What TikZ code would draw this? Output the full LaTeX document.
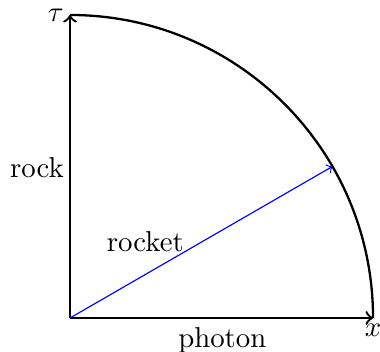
\documentclass[tikz,border=0pt]{standalone}
\begin{document}
\begin{tikzpicture}[axis/.style={thick,->},lbl/.style={inner sep=2pt}]
\def\R{3.7}
\useasboundingbox (-0.855,-0.415) rectangle (3.785,3.883);
\coordinate (O) at (0,0);
\coordinate (X) at (\R,0);
\coordinate (T) at (0,\R);
\coordinate (P) at (30:\R);
\draw[axis] (O) -- (X);
\draw[axis] (O) -- (T);
\draw[thick] (X) arc[start angle=0,end angle=90,radius=\R];
\draw[blue,->] (O) -- (P);
\node[lbl,below] (xl) at (X) {$x$};
\node[lbl,left] (tl) at (T) {$\tau$};
\node[lbl,left] (rock) at (0,1.83) {rock};
\node[lbl] (photon) at (1.86,-0.27) {photon};
\node[lbl] (rocket) at (0.92,0.93) {rocket};
\end{tikzpicture}
\end{document}
